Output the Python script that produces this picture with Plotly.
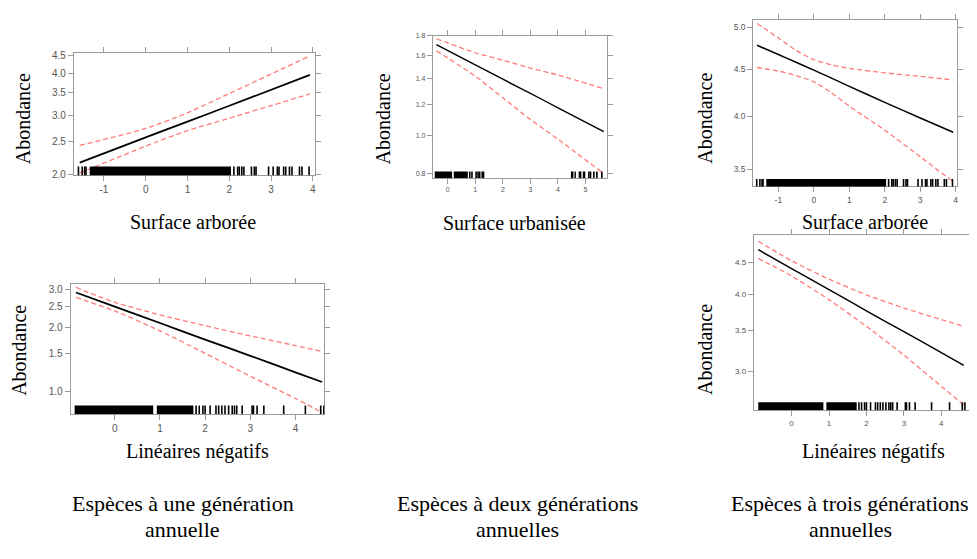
import plotly.graph_objects as go
import math

# viewport 977x559; the page body has an 8px default margin, so the figure is
# made 8px smaller and all pixel positions are shifted by that margin.
VW, VH = 977, 559
OFF = 8
FW, FH = VW - OFF, VH - OFF

# ---------------- data ----------------
# Panel 1 : une génération, Surface arborée
p1_x = [-1.58, 0, 1, 2, 3.93]
p1_fit = [2.17, 2.58, 2.87, 3.20, 3.95]
p1_up = [2.44, 2.74, 3.05, 3.48, 4.50]
p1_lo = [2.02, 2.43, 2.70, 2.94, 3.47]

# Panel 2 : deux générations, Surface urbanisée
p2_x = [-0.41, 1, 2, 3, 4, 5.66]
p2_fit = [1.71, 1.518, 1.395, 1.283, 1.179, 1.025]
p2_up = [1.77, 1.63, 1.56, 1.49, 1.43, 1.32]
p2_lo = [1.65, 1.42, 1.25, 1.10, 0.98, 0.80]

# Panel 3 : trois générations, Surface arborée
p3_x = [-1.6, -1.0, -0.5, 0, 0.5, 1, 2, 3, 3.93]
p3_fit = [4.78, 4.67, 4.58, 4.49, 4.40, 4.31, 4.14, 3.98, 3.84]
p3_up = [5.05, 4.87, 4.72, 4.61, 4.55, 4.51, 4.46, 4.42, 4.38]
p3_lo = [4.52, 4.48, 4.43, 4.36, 4.24, 4.10, 3.86, 3.61, 3.39]

# Panel 4 : une génération, Linéaires négatifs
p4_x = [-0.86, 0, 1, 2, 3, 4, 4.59]
p4_fit = [2.90, 2.49, 2.09, 1.75, 1.47, 1.23, 1.11]
p4_up = [3.06, 2.61, 2.28, 2.03, 1.82, 1.64, 1.54]
p4_lo = [2.75, 2.38, 1.92, 1.51, 1.18, 0.93, 0.80]

# Panel 5 : trois générations, Linéaires négatifs
p5_x = [-0.89, 0, 1, 2, 3, 4, 4.6]
p5_fit = [4.72, 4.40, 4.07, 3.76, 3.48, 3.22, 3.07]
p5_up = [4.87, 4.53, 4.23, 3.99, 3.80, 3.64, 3.55]
p5_lo = [4.57, 4.28, 3.92, 3.55, 3.19, 2.84, 2.65]

# Rug (observed covariate values): dense blocks and isolated ticks
rug_arboree_blocks = [(-1.34, 2.04)]
rug_arboree_ticks = [-1.61, -1.52, -1.46, -1.43, 2.11, 2.2, 2.24, 2.3, 2.35, 2.53,
                     2.6, 2.64, 2.94, 3.05, 3.15, 3.19, 3.3, 3.35, 3.44, 3.5, 3.68,
                     3.74, 3.91]
rug_urbanisee_blocks = [(-0.47, 0.16), (0.22, 0.73), (4.47, 4.56), (4.6, 4.65),
                        (4.75, 4.85), (4.9, 4.99)]
rug_urbanisee_ticks = [0.8, 0.88, 1.03, 1.1, 1.16, 1.25, 1.3, 5.12, 5.18, 5.3, 5.41, 5.59]
rug_lineaires_blocks = [(-0.89, 0.85), (0.93, 1.74)]
rug_lineaires_ticks = [1.8, 1.87, 1.95, 2.0, 2.11, 2.24, 2.3, 2.37, 2.44, 2.52, 2.6,
                       2.65, 2.7, 2.82, 3.04, 3.07, 3.15, 3.3, 3.74, 4.22, 4.56, 4.63]

# ticks
p1_yticks = [2.0, 2.5, 3.0, 3.5, 4.0, 4.5]
p1_xticks = [-1, 0, 1, 2, 3, 4]
p2_yticks = [0.8, 1.0, 1.2, 1.4, 1.6, 1.8]
p2_xticks = [0, 1, 2, 3, 4, 5]
p3_yticks = [3.5, 4.0, 4.5, 5.0]
p3_xticks = [-1, 0, 1, 2, 3, 4]
p4_yticks = [1.0, 1.5, 2.0, 2.5, 3.0]
p4_xticks = [0, 1, 2, 3, 4]
p5_yticks = [3.0, 3.5, 4.0, 4.5]
p5_xticks = [0, 1, 2, 3, 4]

x_titles = ["Surface arborée", "Surface urbanisée", "Surface arborée",
            "Linéaires négatifs", "Linéaires négatifs"]
y_title = "Abondance"
captions_l1 = ["Espèces à une génération", "Espèces à deux générations",
               "Espèces à trois générations"]
captions_l2 = ["annuelle", "annuelles", "annuelles"]


def px(x):
    return (x - OFF) / FW


def py(y):
    return 1 - (y - OFF) / FH


# ---------------- layout geometry (viewport pixels) ----------------
panels = [
    dict(x=p1_x, fit=p1_fit, up=p1_up, lo=p1_lo, xt=p1_xticks, yt=p1_yticks,
         box=(74, 316, 50, 174), xr=(-1.72, 4.06), yr=(1.99, 4.58), fs=10,
         rb=rug_arboree_blocks, rt=rug_arboree_ticks, rh=0.072, lw=1.8,
         ytp=(23, 116), xtp=(193, 221)),
    dict(x=p2_x, fit=p2_fit, up=p2_up, lo=p2_lo, xt=p2_xticks, yt=p2_yticks,
         box=(433.7, 608.3, 32.3, 176.7), xr=(-0.54, 5.78), yr=(0.78, 1.8), fs=7,
         rb=rug_urbanisee_blocks, rt=rug_urbanisee_ticks, rh=0.045, lw=1.4,
         ytp=(384, 117), xtp=(516, 222)),
    dict(x=p3_x, fit=p3_fit, up=p3_up, lo=p3_lo, xt=p3_xticks, yt=p3_yticks,
         box=(754.7, 958.7, 15.7, 185.3), xr=(-1.71, 4.03), yr=(3.35, 5.10), fs=8.5,
         rb=rug_arboree_blocks, rt=rug_arboree_ticks, rh=0.045, lw=1.5,
         ytp=(707, 116), xtp=(866.5, 221)),
    dict(x=p4_x, fit=p4_fit, up=p4_up, lo=p4_lo, xt=p4_xticks, yt=p4_yticks,
         box=(70.7, 325, 285, 416.7), xr=(-0.98, 4.64), yr=(0.787, 3.16), fs=10,
         rb=rug_lineaires_blocks, rt=rug_lineaires_ticks, rh=0.065, lw=1.8,
         ytp=(19.5, 352), xtp=(198, 455)),
    dict(x=p5_x, fit=p5_fit, up=p5_up, lo=p5_lo, xt=p5_xticks, yt=p5_yticks,
         box=(755.3, 971, 235, 412.7), xr=(-1.01, 4.74), yr=(2.60, 4.98), fs=8,
         rb=rug_lineaires_blocks, rt=rug_lineaires_ticks, rh=0.045, lw=1.5,
         ytp=(707, 351), xtp=(875.5, 455)),
]

fig = go.Figure()
shapes = []
annotations = []
red = "rgba(255,90,90,0.8)"
box_col = "#9a9a9a"
serif = "Liberation Serif, Times New Roman, serif"


def fmt(v):
    return f"{v:.1f}"


for i, p in enumerate(panels, start=1):
    xa = "x" if i == 1 else f"x{i}"
    ya = "y" if i == 1 else f"y{i}"
    for ys, col, dash, w in [(p["up"], red, "5px,3px", 1.3), (p["lo"], red, "5px,3px", 1.3),
                             (p["fit"], "black", "solid", p["lw"])]:
        fig.add_trace(go.Scatter(x=p["x"], y=ys, mode="lines", xaxis=xa, yaxis=ya,
                                 line=dict(color=col, width=w, dash=dash, shape="spline",
                                           smoothing=0.6),
                                 showlegend=False, hoverinfo="skip"))
    # rug
    for a, b in p["rb"]:
        shapes.append(dict(type="rect", xref=xa, yref=f"{ya} domain", x0=a, x1=b,
                           y0=0, y1=p["rh"], fillcolor="black", line=dict(width=0),
                           layer="above"))
    for t in p["rt"]:
        shapes.append(dict(type="line", xref=xa, yref=f"{ya} domain", x0=t, x1=t,
                           y0=0, y1=p["rh"], line=dict(color="black", width=1.6),
                           layer="above"))
    L, R, T, B = p["box"]
    axcommon = dict(showline=True, linecolor=box_col, linewidth=1, mirror="allticks",
                    ticks="outside", ticklen=5, tickcolor=box_col, tickwidth=1,
                    showgrid=False, zeroline=False,
                    tickfont=dict(family="Liberation Sans, Arial", size=p["fs"], color="#555"))
    fig.layout[f"xaxis{'' if i == 1 else i}"] = dict(
        axcommon, domain=[px(L), px(R)], range=list(p["xr"]), anchor=ya,
        tickvals=p["xt"], ticktext=[str(v) for v in p["xt"]])
    fig.layout[f"yaxis{'' if i == 1 else i}"] = dict(
        axcommon, domain=[py(B), py(T)], type="log",
        range=[math.log10(p["yr"][0]), math.log10(p["yr"][1])], anchor=xa,
        tickvals=p["yt"], ticktext=[fmt(v) for v in p["yt"]])
    annotations.append(dict(text=y_title, x=px(p["ytp"][0]), y=py(p["ytp"][1]),
                            xref="paper", yref="paper", showarrow=False, textangle=-90,
                            xanchor="center", yanchor="middle", borderpad=0,
                            font=dict(family=serif, size=20, color="black")))
    annotations.append(dict(text=x_titles[i - 1], x=px(p["xtp"][0]), y=py(p["xtp"][1]),
                            xref="paper", yref="paper", showarrow=False,
                            xanchor="center", yanchor="middle",
                            font=dict(family=serif, size=20, color="black")))

for cx, l1, l2 in zip([183, 519, 852], captions_l1, captions_l2):
    annotations.append(dict(text=l1, x=px(cx), y=py(508), xref="paper", yref="paper",
                            showarrow=False, xanchor="center", yanchor="middle",
                            borderpad=0,
                            font=dict(family=serif, size=22, color="black")))
    annotations.append(dict(text=l2, x=px(cx), y=py(534), xref="paper", yref="paper",
                            showarrow=False, xanchor="center", yanchor="middle",
                            borderpad=0,
                            font=dict(family=serif, size=22, color="black")))

fig.update_layout(width=FW, height=FH, margin=dict(l=0, r=0, t=0, b=0),
                  paper_bgcolor="white", plot_bgcolor="white",
                  shapes=shapes, annotations=annotations, showlegend=False)

fig.write_html("out.html")
